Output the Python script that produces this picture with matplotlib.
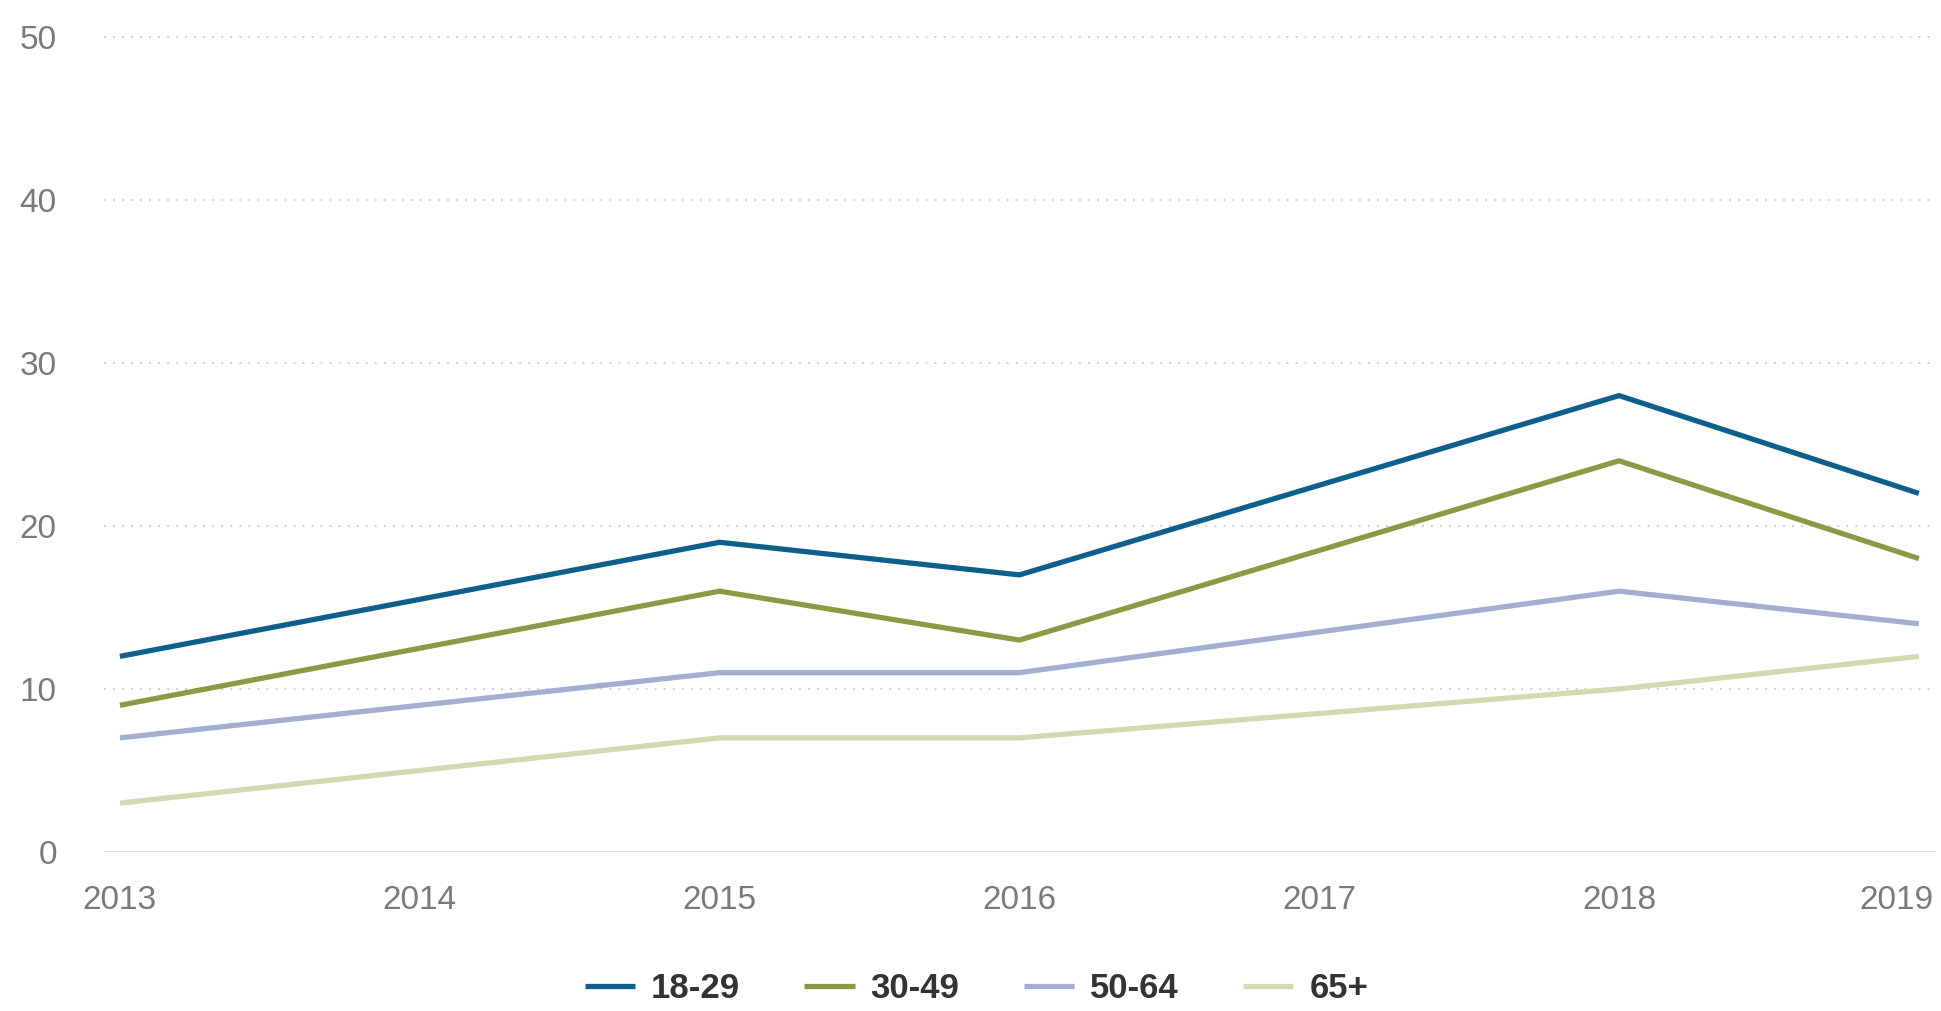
import matplotlib
matplotlib.use("Agg")
import matplotlib.pyplot as plt
from matplotlib.transforms import ScaledTranslation

plt.rcParams['font.family'] = ['Liberation Sans', 'DejaVu Sans']

# datos
anios = [2013, 2015, 2016, 2018, 2019]
grupos = ["18-29", "30-49", "50-64", "65+"]
valores_18_29 = [12, 19, 17, 28, 22]
valores_30_49 = [9, 16, 13, 24, 18]
valores_50_64 = [7, 11, 11, 16, 14]
valores_65 = [3, 7, 7, 10, 12]
ticks_x = [2013, 2014, 2015, 2016, 2017, 2018, 2019]
ticks_y = [0, 10, 20, 30, 40, 50]

colores = ["#0f5f8c", "#8a9a45", "#a3afd2", "#d3dab3"]
series = [valores_18_29, valores_30_49, valores_50_64, valores_65]

fig = plt.figure(figsize=(19.41, 10.11), dpi=100)
ax = fig.add_axes([0.0536, 0.1573, 0.9438, 0.8061])

for y in ticks_y[1:]:
    ax.axhline(y, color="#c8c8c8", linestyle=(0, (1, 4)), linewidth=1.3, zorder=1, clip_on=False)
ax.axhline(0, color="#d3d6e2", linewidth=2, zorder=1)

for nombre, vals, col in zip(grupos, series, colores):
    ax.plot(anios, vals, color=col, linewidth=3.8, label=nombre, zorder=3,
            solid_capstyle="butt")

ax.set_xlim(2012.947, 2019.057)
ax.set_ylim(0, 50)
ax.set_xticks(ticks_x)
ax.set_yticks(ticks_y)
ax.tick_params(axis="x", length=0, pad=24, labelsize=24, labelcolor="#7a7a7a")
ax.tick_params(axis="y", length=0, pad=34, labelsize=24, labelcolor="#7a7a7a")
for s in ax.spines.values():
    s.set_visible(False)

# la última etiqueta queda pegada al borde derecho
ultima = ax.get_xticklabels()[-1]
ultima.set_horizontalalignment("right")
ultima.set_transform(ultima.get_transform() + ScaledTranslation(0.15, 0, fig.dpi_scale_trans))

leg = fig.legend(loc="center", bbox_to_anchor=(0.503, 0.022), ncol=4, frameon=False,
                 handlelength=1.45, handletextpad=0.46, columnspacing=1.85,
                 borderpad=0, prop={"size": 25, "weight": "bold"})
for t in leg.get_texts():
    t.set_color("#333333")

fig.savefig("out.png", dpi=100, facecolor="white")
